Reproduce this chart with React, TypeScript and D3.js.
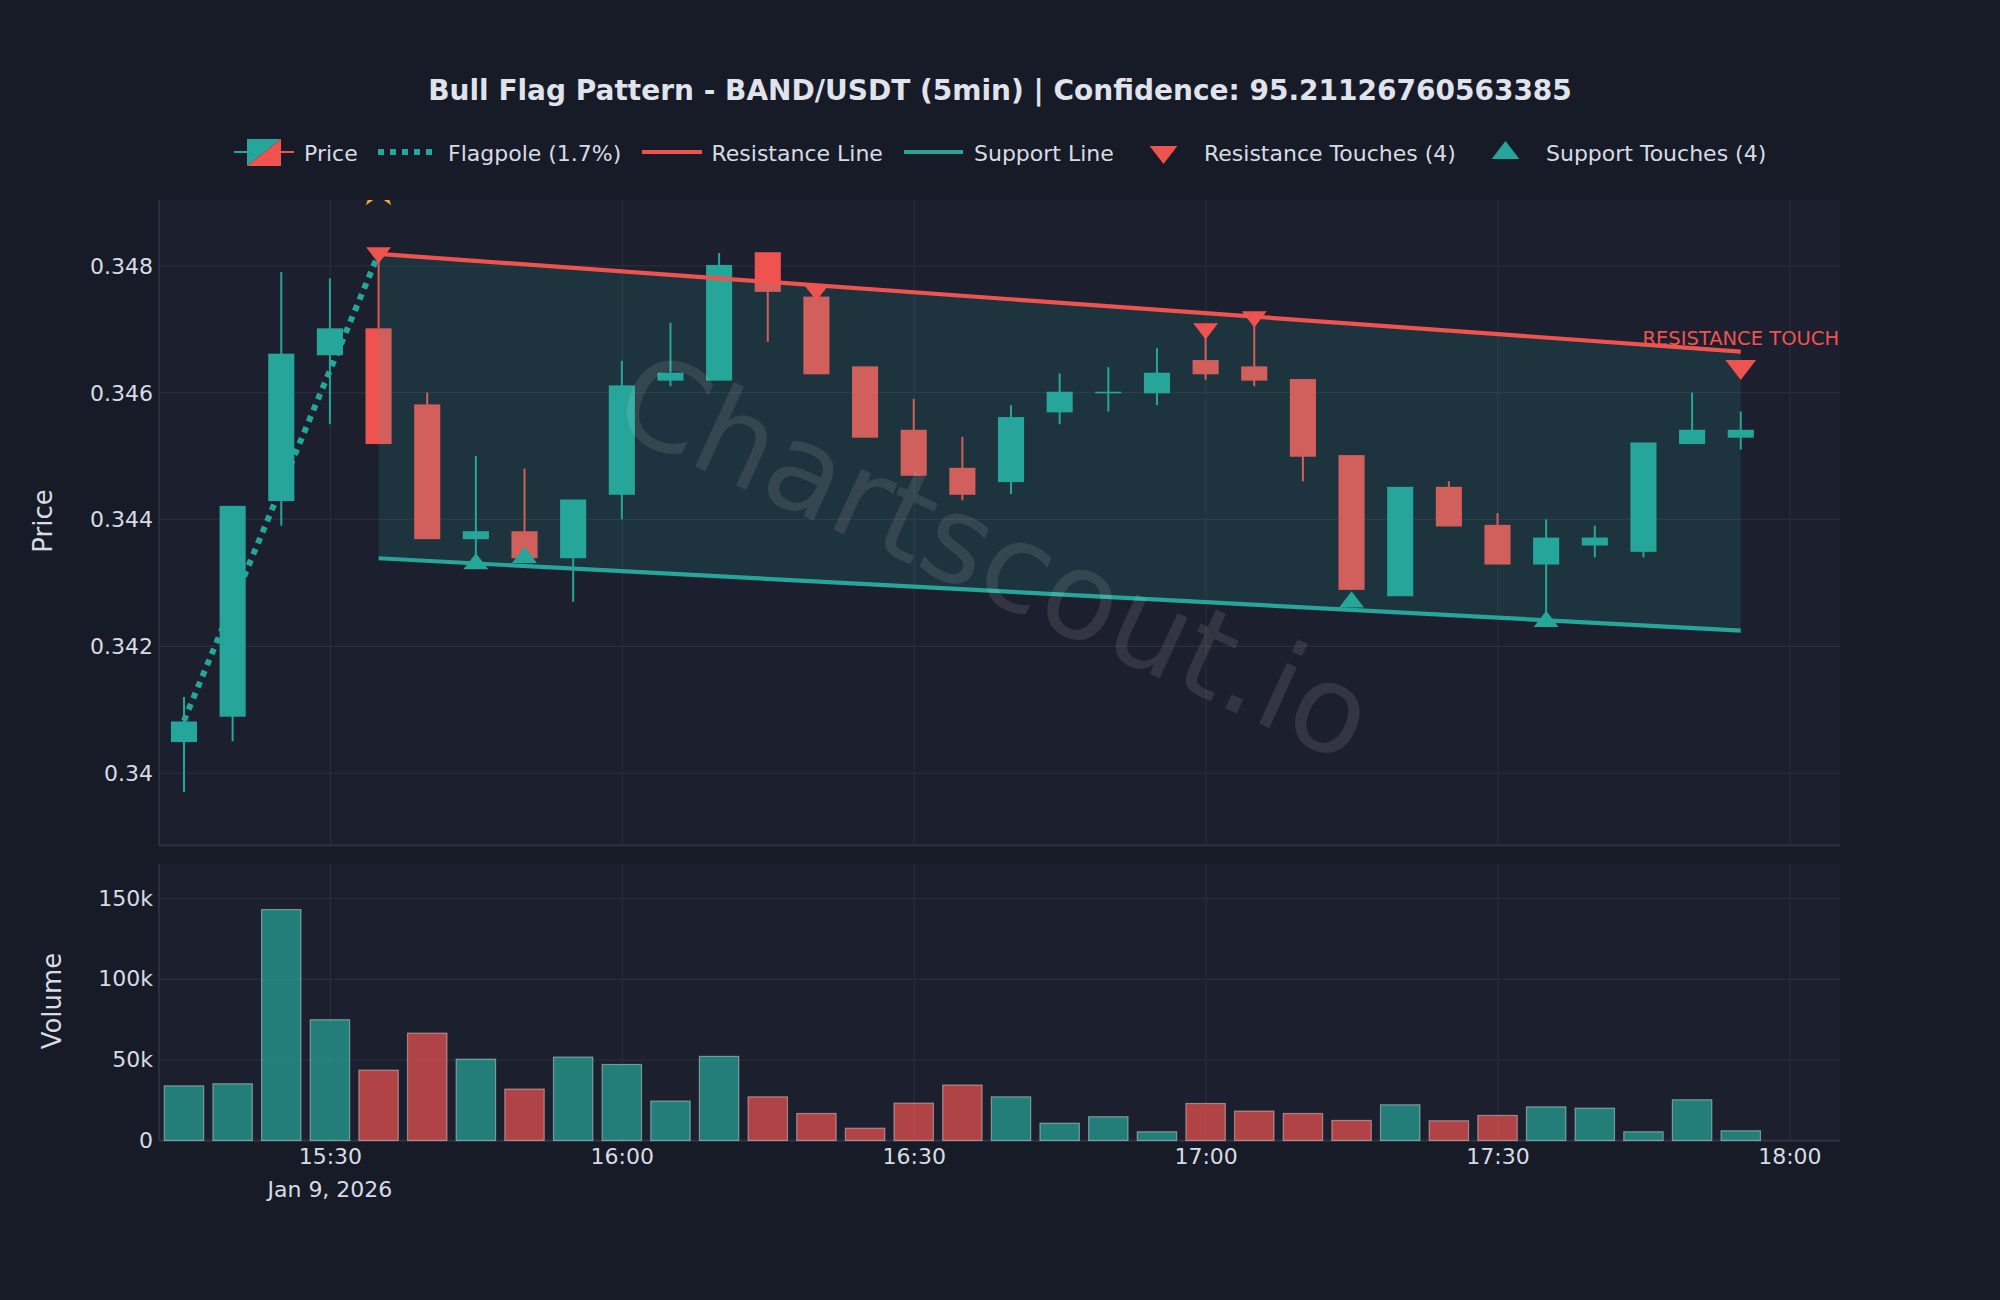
import React, { useEffect, useRef } from "react";
import * as d3 from "d3";

const TITLE = "Bull Flag Pattern - BAND/USDT (5min) | Confidence: 95.21126760563385";

const opens = [
  0.3405, 0.3409, 0.3443, 0.3466, 0.347, 0.3458, 0.3437, 0.3438, 0.3434, 0.3444, 0.3462,
  0.3462, 0.3482, 0.3475, 0.3464, 0.3454, 0.3448, 0.3446, 0.3457, 0.346, 0.346, 0.3465,
  0.3464, 0.3462, 0.345, 0.3428, 0.3445, 0.3439, 0.3433, 0.3436, 0.3435, 0.3452, 0.3453,
];
const highs = [
  0.3412, 0.3442, 0.3479, 0.3478, 0.3482, 0.346, 0.345, 0.3448, 0.3443, 0.3465, 0.3471,
  0.3482, 0.3482, 0.3477, 0.3464, 0.3459, 0.3453, 0.3458, 0.3463, 0.3464, 0.3467, 0.347,
  0.3472, 0.3462, 0.345, 0.3445, 0.3446, 0.3441, 0.344, 0.3439, 0.3452, 0.346, 0.3457,
];
const lows = [
  0.3397, 0.3405, 0.3439, 0.3455, 0.3452, 0.3437, 0.3433, 0.3434, 0.3427, 0.344, 0.3461,
  0.3462, 0.3468, 0.3463, 0.3453, 0.3447, 0.3443, 0.3444, 0.3455, 0.3457, 0.3458, 0.3462,
  0.3461, 0.3446, 0.3429, 0.3428, 0.3439, 0.3433, 0.3424, 0.3434, 0.3434, 0.3452, 0.3451,
];
const closes = [
  0.3408, 0.3442, 0.3466, 0.347, 0.3452, 0.3437, 0.3438, 0.3434, 0.3443, 0.3461, 0.3463,
  0.348, 0.3476, 0.3463, 0.3453, 0.3447, 0.3444, 0.3456, 0.346, 0.346, 0.3463, 0.3463,
  0.3462, 0.345, 0.3429, 0.3445, 0.3439, 0.3433, 0.3437, 0.3437, 0.3452, 0.3454, 0.3454,
];
const volumes = [
  33800, 35100, 142800, 74700, 43500, 66400, 50300, 31800, 51600, 47000, 24400, 52000, 27000,
  16700, 7600, 23100, 34300, 27000, 10700, 14700, 5400, 22900, 18200, 16700, 12400, 22100,
  12200, 15500, 20800, 20000, 5400, 25200, 6000,
];

const priceTicks = [0.34, 0.342, 0.344, 0.346, 0.348];
const volumeTicks = [0, 50000, 100000, 150000];
const timeTicks = [[15, 30], [16, 0], [16, 30], [17, 0], [17, 30], [18, 0]];

const at = (h: number, m: number) => new Date(2026, 0, 9, h, m);

const times = d3.timeMinute.every(5)!.range(at(15, 15), at(18, 0));

const flagpole = [
  { t: at(15, 15), v: 0.34082 },
  { t: at(15, 35), v: 0.34818 },
];
const resistanceLine = [
  { t: at(15, 35), v: 0.34818 },
  { t: at(17, 55), v: 0.34664 },
];
const supportLine = [
  { t: at(15, 35), v: 0.34338 },
  { t: at(17, 55), v: 0.34224 },
];
const resistanceTouches = [
  { t: at(15, 35), v: 0.3482 },
  { t: at(16, 20), v: 0.34761 },
  { t: at(17, 0), v: 0.347 },
  { t: at(17, 5), v: 0.34719 },
];
const supportTouches = [
  { t: at(15, 45), v: 0.34329 },
  { t: at(15, 50), v: 0.34339 },
  { t: at(17, 15), v: 0.34269 },
  { t: at(17, 35), v: 0.34238 },
];
const breakoutTouch = { t: at(17, 55), v: 0.3464 };
const patternStart = { t: at(15, 35), v: 0.34922 };

const GREEN = "#26a69a";
const RED = "#ef5350";
const TITLE_COLOR = "#e0e3eb";
const TEXT = "#d8dbe3";
const PAGE_BG = "#171b27";
const PLOT_BG = "#1c1f2d";
const GRID = "#292d39";
const FONT = "'DejaVu Sans', sans-serif";

// triangle outline, same proportions as the plotly markers
const triangle = (r: number, down: boolean) => {
  const w = (r * 2) / Math.sqrt(3);
  const s = down ? 1 : -1;
  return `M${-w},${(-s * r) / 2}H${w}L0,${s * r}Z`;
};

const App = () => {
  const svgRef = useRef<SVGSVGElement>(null);

  useEffect(() => {
    document.body.style.margin = "0";
    const svg = d3.select(svgRef.current);
    svg.selectAll("*").remove();

    const left = 159;
    const right = 1840;
    const price = { top: 200, bottom: 845.5 };
    const vol = { top: 864, bottom: 1140.5 };

    const x = d3.scaleTime().domain([new Date(2026, 0, 9, 15, 12, 26), new Date(2026, 0, 9, 18, 5, 12)]).range([left, right]);
    const y = d3.scaleLinear().domain([0.33885, 0.34903]).range([price.bottom, price.top]);
    const yVol = d3.scaleLinear().domain([0, 171000]).range([vol.bottom, vol.top]);

    svg.append("rect").attr("width", 2000).attr("height", 1300).attr("fill", PAGE_BG);

    svg.append("clipPath").attr("id", "price-clip").append("rect")
      .attr("x", left).attr("y", price.top).attr("width", right - left).attr("height", price.bottom - price.top);

    [price, vol].forEach((p) => {
      svg.append("rect").attr("x", left).attr("y", p.top).attr("width", right - left)
        .attr("height", p.bottom - p.top).attr("fill", PLOT_BG);
    });

    const styleAxis = (g: any) => {
      g.select(".domain").remove();
      g.selectAll("line").attr("stroke", GRID).attr("stroke-width", 1.3);
      g.selectAll("text").attr("fill", TEXT).style("font-size", "22px").style("font-family", FONT);
    };

    // price panel axes, grid lines come from the tick size
    const yAxis = svg.append("g").attr("transform", `translate(${left},0)`)
      .call(d3.axisLeft(y).tickValues(priceTicks).tickFormat((d) => String(d)).tickSize(-(right - left)).tickPadding(6))
      .call(styleAxis);
    yAxis.selectAll("text").attr("dy", "0.36em");
    svg.append("g").attr("transform", `translate(0,${price.bottom})`)
      .call(d3.axisBottom(x).tickValues(timeTicks.map(([h, m]) => at(h, m))).tickFormat(() => "").tickSize(-(price.bottom - price.top)))
      .call(styleAxis);

    // volume panel axes
    svg.append("g").attr("transform", `translate(${left},0)`)
      .call(d3.axisLeft(yVol).tickValues(volumeTicks).tickFormat((d) => (+d === 0 ? "0" : `${+d / 1000}k`)).tickSize(-(right - left)).tickPadding(6))
      .call(styleAxis);
    const xAxis = svg.append("g").attr("transform", `translate(0,${vol.bottom})`)
      .call(d3.axisBottom(x).tickValues(timeTicks.map(([h, m]) => at(h, m))).tickFormat(d3.timeFormat("%H:%M") as any).tickSize(-(vol.bottom - vol.top)).tickPadding(8))
      .call(styleAxis);
    xAxis.selectAll("text").attr("dy", "0.71em");

    // panel edges
    [[left, left, price.top, price.bottom], [left, left, vol.top, vol.bottom], [left, right, price.bottom, price.bottom], [left, right, vol.bottom, vol.bottom]]
      .forEach(([x1, x2, y1, y2]) => {
        svg.append("line").attr("x1", x1).attr("x2", x2).attr("y1", y1).attr("y2", y2)
          .attr("stroke", "#2e3240").attr("stroke-width", 1.8);
      });

    svg.append("text").attr("x", x(at(15, 30))).attr("y", 1197).attr("text-anchor", "middle")
      .attr("fill", TEXT).style("font-size", "22px").style("font-family", FONT).text("Jan 9, 2026");

    const axisTitle = (label: string, cx: number, cy: number) => {
      svg.append("text").attr("transform", `translate(${cx},${cy}) rotate(-90)`).attr("text-anchor", "middle")
        .attr("dominant-baseline", "central").attr("fill", TEXT).style("font-size", "26px").style("font-family", FONT).text(label);
    };
    axisTitle("Price", 43, 521);
    axisTitle("Volume", 52, 1001);

    // volume bars
    const barWidth = 39.4;
    svg.append("g").selectAll("rect").data(volumes).join("rect")
      .attr("x", (_, i) => x(times[i]) - barWidth / 2)
      .attr("width", barWidth)
      .attr("y", (d) => yVol(d))
      .attr("height", (d) => yVol(0) - yVol(d))
      .attr("fill", (_, i) => (closes[i] >= opens[i] ? "rgba(38,166,154,0.7)" : "rgba(239,83,80,0.7)"))
      .attr("stroke", "rgba(255,255,255,0.4)")
      .attr("stroke-width", 1.2);

    // candles, the body stroke adds a bit on each side
    const bodyWidth = 24.5;
    const candles = svg.append("g").attr("transform", "translate(0,0.4)").selectAll("g").data(times).join("g");
    const candleColor = (_: Date, i: number) => (closes[i] >= opens[i] ? GREEN : RED);
    candles.append("line")
      .attr("x1", (d) => x(d)).attr("x2", (d) => x(d))
      .attr("y1", (_, i) => y(highs[i])).attr("y2", (_, i) => y(lows[i]))
      .attr("stroke", candleColor).attr("stroke-width", 2);
    candles.append("rect")
      .attr("x", (d) => x(d) - bodyWidth / 2).attr("width", bodyWidth)
      .attr("y", (_, i) => y(Math.max(opens[i], closes[i])))
      .attr("height", (_, i) => Math.max(Math.abs(y(opens[i]) - y(closes[i])), 0.01))
      .attr("fill", candleColor)
      .attr("stroke", candleColor)
      .attr("stroke-width", 1.6);

    // flag channel sits over the candles
    const channel = d3.area<number>()
      .x((i) => x(resistanceLine[i].t))
      .y0((i) => y(supportLine[i].v))
      .y1((i) => y(resistanceLine[i].v));
    svg.append("path").datum([0, 1]).attr("d", channel).attr("fill", GREEN).attr("fill-opacity", 0.15);

    const line = d3.line<{ t: Date; v: number }>().x((d) => x(d.t)).y((d) => y(d.v));

    svg.append("path").datum(flagpole).attr("d", line).attr("fill", "none")
      .attr("stroke", GREEN).attr("stroke-width", 6).attr("stroke-dasharray", "6,6");
    svg.append("path").datum(resistanceLine).attr("d", line).attr("fill", "none").attr("stroke", RED).attr("stroke-width", 4.2);
    svg.append("path").datum(supportLine).attr("d", line).attr("fill", "none").attr("stroke", GREEN).attr("stroke-width", 4.2);

    svg.append("g").selectAll("path").data(resistanceTouches).join("path")
      .attr("transform", (d) => `translate(${x(d.t)},${y(d.v)})`)
      .attr("d", triangle(10.8, true)).attr("fill", RED);
    svg.append("g").selectAll("path").data(supportTouches).join("path")
      .attr("transform", (d) => `translate(${x(d.t)},${y(d.v)})`)
      .attr("d", triangle(10.8, false)).attr("fill", GREEN);
    svg.append("path").attr("transform", `translate(${x(breakoutTouch.t)},${y(breakoutTouch.v)})`)
      .attr("d", triangle(13.3, true)).attr("fill", RED);
    svg.append("text").attr("x", x(breakoutTouch.t)).attr("y", 345).attr("text-anchor", "middle")
      .attr("fill", RED).style("font-size", "19.5px").style("font-family", FONT).text("RESISTANCE TOUCH");

    // star marker is mostly cut off by the top of the panel
    svg.append("g").attr("clip-path", "url(#price-clip)").append("path")
      .attr("transform", `translate(${x(patternStart.t)},${y(patternStart.v)})`)
      .attr("d", d3.symbol().type(d3.symbolStar).size(520)())
      .attr("fill", "#ffa726");

    // title
    svg.append("text").attr("x", 1000).attr("y", 100).attr("text-anchor", "middle")
      .attr("fill", TITLE_COLOR).style("font-size", "28px").style("font-weight", "bold").style("font-family", FONT).text(TITLE);

    // legend
    const legendY = 152;
    const legendText = (label: string, lx: number) => {
      svg.append("text").attr("x", lx).attr("y", legendY + 8.5).attr("fill", TEXT)
        .style("font-size", "22px").style("font-family", FONT).text(label);
    };
    const legendLine = (x1: number, x2: number, color: string, w: number, dash?: string) => {
      svg.append("line").attr("x1", x1).attr("x2", x2).attr("y1", legendY).attr("y2", legendY)
        .attr("stroke", color).attr("stroke-width", w).attr("stroke-dasharray", dash ?? null);
    };
    legendLine(234, 247, GREEN, 2);
    legendLine(281, 294, RED, 2);
    svg.append("polygon").attr("points", "247,139 281,139 247,166").attr("fill", GREEN);
    svg.append("polygon").attr("points", "281,139 281,166 247,166").attr("fill", RED);
    legendText("Price", 304);
    legendLine(378, 433, GREEN, 6, "6,6");
    legendText("Flagpole (1.7%)", 448);
    legendLine(642, 702, RED, 4.2);
    legendText("Resistance Line", 711.5);
    legendLine(904, 963, GREEN, 4.2);
    legendText("Support Line", 974);
    svg.append("path").attr("transform", "translate(1163.5,152)").attr("d", triangle(12, true)).attr("fill", RED);
    legendText("Resistance Touches (4)", 1204);
    svg.append("path").attr("transform", "translate(1505.5,153)").attr("d", triangle(12, false)).attr("fill", GREEN);
    legendText("Support Touches (4)", 1546);

    // watermark
    svg.append("text").attr("transform", "translate(995,557) rotate(24.5)").attr("text-anchor", "middle")
      .attr("dominant-baseline", "central").attr("fill", "rgba(255,255,255,0.1)")
      .style("font-size", "122px").style("font-family", FONT).text("Chartscout.io");
  }, []);

  return <svg ref={svgRef} width={2000} height={1300} style={{ display: "block" }} />;
};

export default App;
